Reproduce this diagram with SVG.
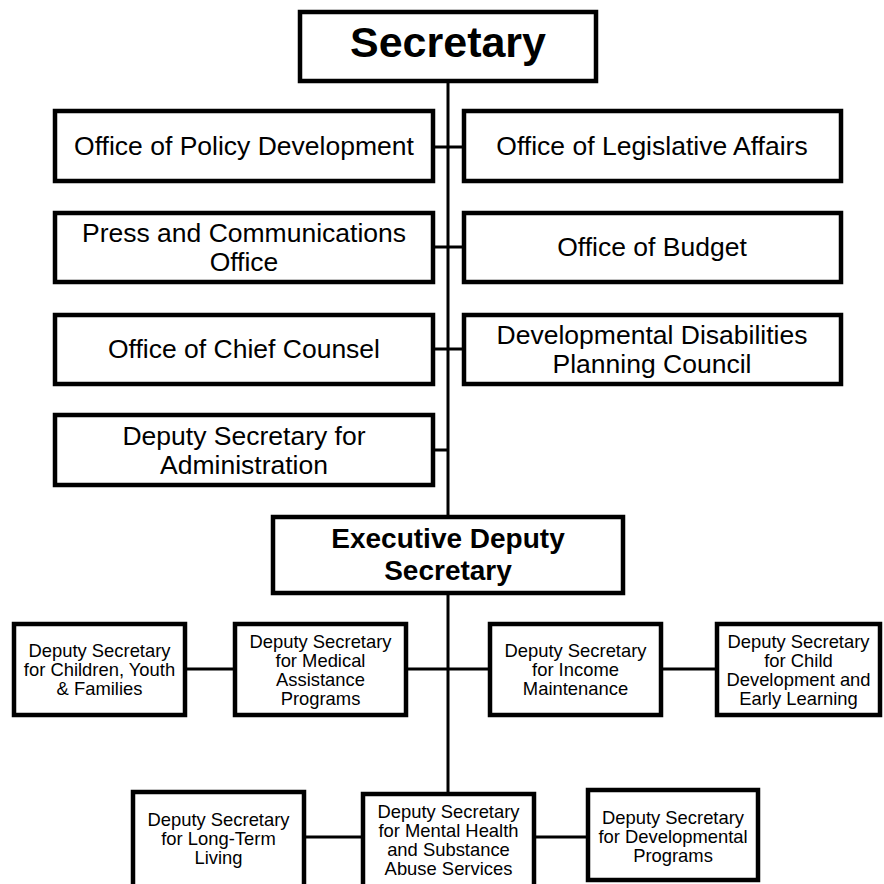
<svg xmlns="http://www.w3.org/2000/svg" width="884" height="884" viewBox="0 0 884 884">
<style>
.box{fill:#fff;stroke:#000;stroke-width:4.5}
.ln{stroke:#000;stroke-width:3;fill:none}
.t{font-family:"Liberation Sans",Arial,sans-serif;text-anchor:middle;fill:#000}
.m{font-size:26.5px}
.s{font-size:18.4px}
.b{font-weight:bold}
</style>
<rect width="884" height="884" fill="#fff"/>
<g id="connectors">
<line class="ln" x1="448" y1="80" x2="448" y2="792"/>
<line class="ln" x1="435" y1="147" x2="462" y2="147"/>
<line class="ln" x1="435" y1="247" x2="462" y2="247"/>
<line class="ln" x1="435" y1="349" x2="462" y2="349"/>
<line class="ln" x1="435" y1="450" x2="448" y2="450"/>
<line class="ln" x1="187" y1="669" x2="233" y2="669"/>
<line class="ln" x1="408" y1="669" x2="488" y2="669"/>
<line class="ln" x1="663" y1="669" x2="715" y2="669"/>
<line class="ln" x1="306" y1="837" x2="361" y2="837"/>
<line class="ln" x1="536" y1="837" x2="586" y2="837"/>
</g>
<g id="secretary">
<rect class="box" x="300" y="12" width="296" height="69"/>
<text class="t b" x="448" y="57" font-size="43">Secretary</text>
</g>
<g id="policy">
<rect class="box" x="55" y="111" width="378" height="70"/>
<text class="t m" x="244" y="155">Office of Policy Development</text>
</g>
<g id="legislative">
<rect class="box" x="464" y="111" width="377" height="70"/>
<text class="t m" x="652" y="155">Office of Legislative Affairs</text>
</g>
<g id="press">
<rect class="box" x="55" y="213" width="378" height="69"/>
<text class="t m" x="244" y="242">Press and Communications</text>
<text class="t m" x="244" y="271">Office</text>
</g>
<g id="budget">
<rect class="box" x="464" y="213" width="377" height="69"/>
<text class="t m" x="652" y="256">Office of Budget</text>
</g>
<g id="counsel">
<rect class="box" x="55" y="315" width="378" height="69"/>
<text class="t m" x="244" y="358">Office of Chief Counsel</text>
</g>
<g id="disabilities">
<rect class="box" x="464" y="315" width="377" height="69"/>
<text class="t m" x="652" y="344">Developmental Disabilities</text>
<text class="t m" x="652" y="373">Planning Council</text>
</g>
<g id="administration">
<rect class="box" x="55" y="415" width="378" height="70"/>
<text class="t m" x="244" y="445">Deputy Secretary for</text>
<text class="t m" x="244" y="474">Administration</text>
</g>
<g id="executive">
<rect class="box" x="273" y="517" width="350" height="76"/>
<text class="t b" x="448" y="548" font-size="28">Executive Deputy</text>
<text class="t b" x="448" y="580" font-size="28">Secretary</text>
</g>
<g id="children">
<rect class="box" x="14" y="624" width="171" height="91"/>
<text class="t s" x="99.5" y="657">Deputy Secretary</text>
<text class="t s" x="99.5" y="676">for Children, Youth</text>
<text class="t s" x="99.5" y="695">&amp; Families</text>
</g>
<g id="medical">
<rect class="box" x="235" y="624" width="171" height="91"/>
<text class="t s" x="320.5" y="647.5">Deputy Secretary</text>
<text class="t s" x="320.5" y="666.5">for Medical</text>
<text class="t s" x="320.5" y="685.5">Assistance</text>
<text class="t s" x="320.5" y="704.5">Programs</text>
</g>
<g id="income">
<rect class="box" x="490" y="624" width="171" height="91"/>
<text class="t s" x="575.5" y="657">Deputy Secretary</text>
<text class="t s" x="575.5" y="676">for Income</text>
<text class="t s" x="575.5" y="695">Maintenance</text>
</g>
<g id="childdev">
<rect class="box" x="717" y="624" width="163" height="91"/>
<text class="t s" x="798.5" y="647.5">Deputy Secretary</text>
<text class="t s" x="798.5" y="666.5">for Child</text>
<text class="t s" x="798.5" y="685.5">Development and</text>
<text class="t s" x="798.5" y="704.5">Early Learning</text>
</g>
<g id="longterm">
<rect class="box" x="133" y="792" width="171" height="100"/>
<text class="t s" x="218.5" y="825.5">Deputy Secretary</text>
<text class="t s" x="218.5" y="844.5">for Long-Term</text>
<text class="t s" x="218.5" y="863.5">Living</text>
</g>
<g id="mentalhealth">
<rect class="box" x="363" y="794" width="171" height="100"/>
<text class="t s" x="448.5" y="818">Deputy Secretary</text>
<text class="t s" x="448.5" y="837">for Mental Health</text>
<text class="t s" x="448.5" y="856">and Substance</text>
<text class="t s" x="448.5" y="875">Abuse Services</text>
</g>
<g id="devprograms">
<rect class="box" x="588" y="790" width="170" height="90"/>
<text class="t s" x="673" y="823.5">Deputy Secretary</text>
<text class="t s" x="673" y="842.5">for Developmental</text>
<text class="t s" x="673" y="861.5">Programs</text>
</g>
</svg>
